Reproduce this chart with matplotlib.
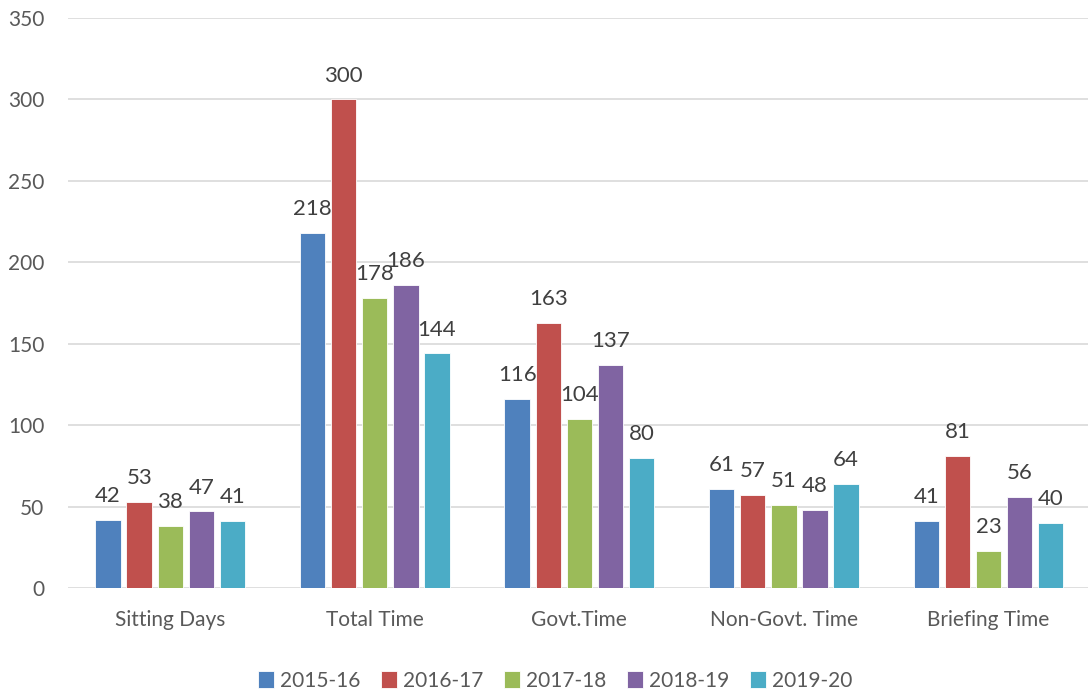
import numpy as np
import matplotlib
matplotlib.use("Agg")
from matplotlib import pyplot as plt

categories = ["Sitting Days", "Total Time", "Govt.Time", "Non-Govt. Time", "Briefing Time"]
years = ["2015-16", "2016-17", "2017-18", "2018-19", "2019-20"]
values = {
    "2015-16": [42, 218, 116, 61, 41],
    "2016-17": [53, 300, 163, 57, 81],
    "2017-18": [38, 178, 104, 51, 23],
    "2018-19": [47, 186, 137, 48, 56],
    "2019-20": [41, 144, 80, 64, 40],
}
colors = ["#4F81BD", "#C0504D", "#9BBB59", "#8064A2", "#4BACC6"]
yticks = [0, 50, 100, 150, 200, 250, 300, 350]

plt.rcParams["font.family"] = ["Lato", "DejaVu Sans"]
text_col = "#595959"

fig = plt.figure(figsize=(10.88, 6.91), dpi=100)
ax = fig.add_axes([0.0625, 0.149, 0.94, 0.825])

x = np.arange(len(categories))
step = 0.152
width = 0.124
for i, yr in enumerate(years):
    pos = x + (i - 2) * step
    bars = ax.bar(pos, values[yr], width, color=colors[i], edgecolor="white",
                  linewidth=0.6, label=yr, zorder=3)
    for b, v in zip(bars, values[yr]):
        ax.annotate(str(v), (b.get_x() + b.get_width() / 2, v),
                    xytext=(0, 10), textcoords="offset points",
                    ha="center", va="bottom", fontsize=16, color="#404040")

ax.set_xlim(-0.5, len(categories) - 0.5)
ax.set_ylim(0, 350)
ax.set_yticks(yticks)
ax.set_xticks(x)
ax.set_xticklabels(categories)
ax.grid(axis="y", color="#D9D9D9", linewidth=1.2, zorder=0)
for s in ax.spines.values():
    s.set_visible(False)
ax.tick_params(axis="both", length=0, labelsize=15, colors=text_col)
ax.tick_params(axis="y", pad=17)
ax.tick_params(axis="x", pad=16)

ax.legend(loc="upper center", bbox_to_anchor=(0.476, -0.112), ncol=5, frameon=False,
          fontsize=15, labelcolor=text_col, handlelength=0.8, handleheight=0.9,
          handletextpad=0.25, columnspacing=1.0)

fig.savefig("out.png", dpi=100)
